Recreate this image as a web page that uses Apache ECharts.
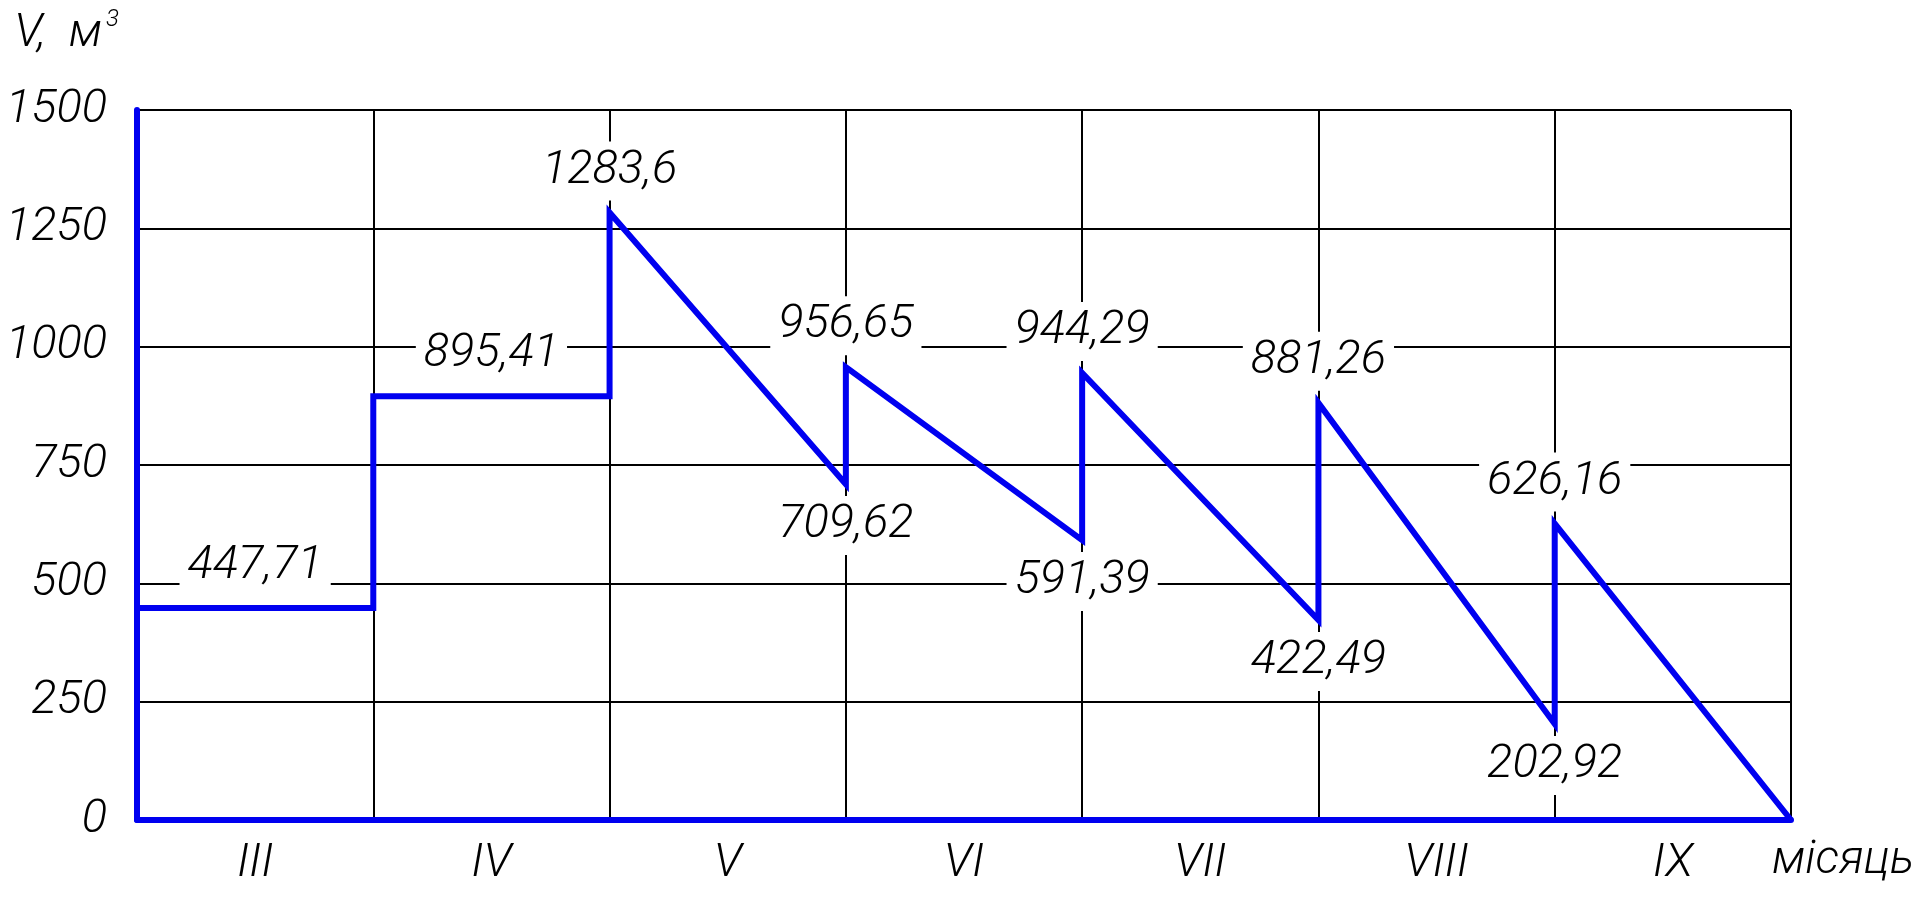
<!DOCTYPE html>
<html>
<head>
<meta charset="utf-8">
<script src="https://cdn.jsdelivr.net/npm/echarts@6/dist/echarts.min.js"></script>
<style>
html,body{margin:0;padding:0;background:#fff;}
#chart{width:1921px;height:898px;}
</style>
</head>
<body>
<div id="chart"></div>
<script>
// Months (categories)
const months = ['III', 'IV', 'V', 'VI', 'VII', 'VIII', 'IX'];
// Volume at the start of each month, m3
const startVolume = [447.71, 895.41, 1283.6, 956.65, 944.29, 881.26, 626.16];
// Volume at the end of each month, m3
const endVolume = [447.71, 895.41, 709.62, 591.39, 422.49, 202.92, 0];
// Y axis ticks
const yMin = 0, yMax = 1500, yStep = 250;

const FONT = "Roboto, 'Liberation Sans', sans-serif";
const FS = 47;
const BLUE = '#0000f0';
const fmt = v => String(v).replace('.', ',');

// Build line path from month start/end volumes
const linePts = [];
months.forEach((m, i) => {
  linePts.push([i, startVolume[i]]);
  linePts.push([i + 1, endVolume[i]]);
});

// Build labels
const labelPts = [];
months.forEach((m, i) => {
  if (startVolume[i] === endVolume[i]) {
    labelPts.push({ value: [i + 0.5, startVolume[i]], label: { position: 'top' } });
  } else {
    labelPts.push({ value: [i, startVolume[i]], label: { position: 'top' } });
    if (endVolume[i] > 0) {
      labelPts.push({ value: [i + 1, endVolume[i]], label: { position: 'bottom' } });
    }
  }
});

const textBase = { fontFamily: FONT, fontStyle: 'italic', fontWeight: 300, color: '#000' };

const chart = echarts.init(document.getElementById('chart'), null, { renderer: 'canvas' });
chart.setOption({
  animation: false,
  backgroundColor: '#fff',
  grid: { left: 137, right: 130, top: 110, bottom: 78, containLabel: false, outerBoundsMode: 'none' },
  xAxis: [
    {
      type: 'value', min: 0, max: months.length, interval: 1,
      axisLine: { show: true, lineStyle: { color: BLUE, width: 6 }, onZero: false },
      axisTick: { show: false },
      axisLabel: { show: false },
      splitLine: { show: true, lineStyle: { color: '#000', width: 2 } },
      name: 'місяць', nameLocation: 'end', nameGap: -19,
      nameTextStyle: Object.assign({}, textBase, { fontSize: FS, verticalAlign: 'top', padding: [18, 0, 0, 0] })
    },
    {
      type: 'category', data: months, position: 'bottom', boundaryGap: true,
      axisLine: { show: false }, axisTick: { show: false }, splitLine: { show: false },
      axisLabel: Object.assign({}, textBase, { fontSize: FS, margin: 21 })
    }
  ],
  yAxis: {
    type: 'value', min: yMin, max: yMax, interval: yStep,
    axisLine: { show: true, lineStyle: { color: BLUE, width: 6 }, onZero: false },
    axisTick: { show: false },
    axisLabel: Object.assign({}, textBase, { fontSize: FS, margin: 30, formatter: v => String(v) }),
    splitLine: { show: true, lineStyle: { color: '#000', width: 2 } },
    name: 'V,  м{sup|3}', nameLocation: 'end', nameGap: 50,
    nameTextStyle: Object.assign({}, textBase, {
      fontSize: FS, align: 'right', verticalAlign: 'bottom', padding: [0, 18, 0, 0],
      rich: { sup: Object.assign({}, textBase, { fontSize: 24, verticalAlign: 'top', padding: [0, 0, 28, 4] }) }
    })
  },
  series: [
    {
      type: 'line', data: linePts, xAxisIndex: 0, symbol: 'none',
      lineStyle: { color: BLUE, width: 6, join: 'miter' }, z: 3
    },
    {
      type: 'scatter', data: labelPts, xAxisIndex: 0, symbolSize: 0, z: 4,
      silent: true,
      itemStyle: { opacity: 1 },
      label: Object.assign({}, textBase, {
        show: true, fontSize: FS, distance: 12, opacity: 1,
        backgroundColor: '#fff', padding: [6, 8, 6, 8],
        formatter: p => fmt(p.value[1])
      })
    }
  ]
});
</script>
</body>
</html>
